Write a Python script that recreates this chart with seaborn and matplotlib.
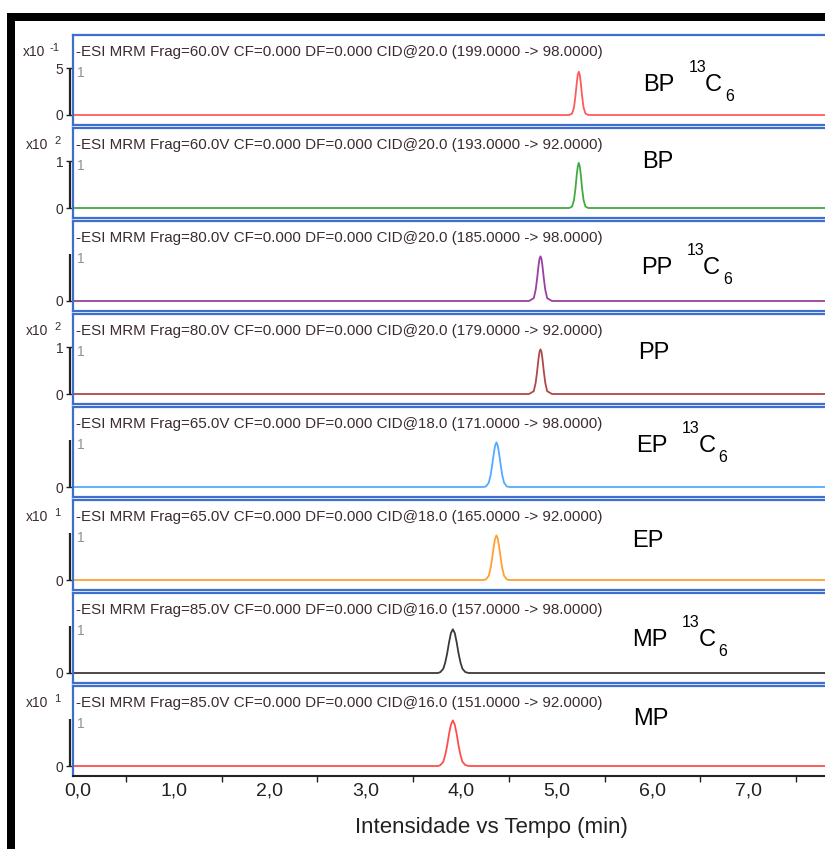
import matplotlib
matplotlib.use("Agg")
import matplotlib.pyplot as plt
import seaborn as sns
import pandas as pd
from matplotlib.patches import Rectangle

# ---------------- data ----------------
names = ["BP", "BP", "PP", "PP", "EP", "EP", "MP", "MP"]
labelled13 = [True, False, True, False, True, False, True, False]
headers = [
    "-ESI MRM Frag=60.0V CF=0.000 DF=0.000 CID@20.0 (199.0000 -> 98.0000)",
    "-ESI MRM Frag=60.0V CF=0.000 DF=0.000 CID@20.0 (193.0000 -> 92.0000)",
    "-ESI MRM Frag=80.0V CF=0.000 DF=0.000 CID@20.0 (185.0000 -> 98.0000)",
    "-ESI MRM Frag=80.0V CF=0.000 DF=0.000 CID@20.0 (179.0000 -> 92.0000)",
    "-ESI MRM Frag=65.0V CF=0.000 DF=0.000 CID@18.0 (171.0000 -> 98.0000)",
    "-ESI MRM Frag=65.0V CF=0.000 DF=0.000 CID@18.0 (165.0000 -> 92.0000)",
    "-ESI MRM Frag=85.0V CF=0.000 DF=0.000 CID@16.0 (157.0000 -> 98.0000)",
    "-ESI MRM Frag=85.0V CF=0.000 DF=0.000 CID@16.0 (151.0000 -> 92.0000)",
]
mult_exp = ["-1", "2", "", "2", "", "1", "", "1"]
ytick_values = [[0, 5], [0, 1], [0], [0, 1], [0], [0], [0], [0]]
ytick_labels = [["0", "5"], ["0", "1"], ["0"], ["0", "1"], ["0"], ["0"], ["0"], ["0"]]
scale_top = [5, 1, 1, 1, 1, 1, 1, 1]
colors = ["#ff5a5a", "#44a844", "#9b3fa0", "#b04848", "#55aaff", "#ffa030", "#3a3a3a", "#ff4d4d"]

bp13_t = [-0.05, 5.13, 5.16, 5.18, 5.195, 5.21, 5.22, 5.23, 5.24, 5.25, 5.265, 5.28, 5.30, 5.33, 7.85]
bp13_y = [0, 0, 0.15, 0.8, 2.0, 3.5, 4.3, 4.6, 4.3, 3.5, 2.0, 0.8, 0.15, 0, 0]
bp_t = [-0.05, 5.13, 5.16, 5.18, 5.195, 5.21, 5.22, 5.23, 5.24, 5.25, 5.265, 5.28, 5.30, 5.33, 7.85]
bp_y = [0, 0, 0.03, 0.17, 0.41, 0.73, 0.89, 0.96, 0.89, 0.73, 0.41, 0.17, 0.03, 0, 0]
pp13_t = [-0.05, 4.71, 4.76, 4.78, 4.795, 4.81, 4.82, 4.83, 4.84, 4.85, 4.865, 4.88, 4.90, 4.95, 7.85]
pp13_y = [0, 0, 0.06, 0.24, 0.48, 0.76, 0.90, 0.95, 0.90, 0.76, 0.48, 0.24, 0.06, 0, 0]
pp_t = [-0.05, 4.71, 4.76, 4.78, 4.795, 4.81, 4.82, 4.83, 4.84, 4.85, 4.865, 4.88, 4.90, 4.95, 7.85]
pp_y = [0, 0, 0.06, 0.24, 0.48, 0.76, 0.90, 0.95, 0.90, 0.76, 0.48, 0.24, 0.06, 0, 0]
ep13_t = [-0.05, 4.23, 4.26, 4.29, 4.31, 4.325, 4.34, 4.355, 4.37, 4.385, 4.40, 4.415, 4.43, 4.45, 4.48, 4.51, 7.85]
ep13_y = [0, 0, 0.01, 0.09, 0.26, 0.46, 0.68, 0.87, 0.95, 0.87, 0.68, 0.46, 0.26, 0.09, 0.01, 0, 0]
ep_t = [-0.05, 4.23, 4.26, 4.29, 4.31, 4.325, 4.34, 4.355, 4.37, 4.385, 4.40, 4.415, 4.43, 4.45, 4.48, 4.51, 7.85]
ep_y = [0, 0, 0.01, 0.09, 0.26, 0.46, 0.68, 0.87, 0.95, 0.87, 0.68, 0.46, 0.26, 0.09, 0.01, 0, 0]
mp13_t = [-0.05, 3.76, 3.785, 3.815, 3.835, 3.855, 3.875, 3.895, 3.915, 3.935, 3.955, 3.975, 3.995, 4.015, 4.045, 4.08, 7.85]
mp13_y = [0, 0, 0.02, 0.09, 0.22, 0.41, 0.65, 0.85, 0.93, 0.85, 0.65, 0.41, 0.22, 0.09, 0.02, 0, 0]
mp_t = [-0.05, 3.76, 3.785, 3.815, 3.835, 3.855, 3.875, 3.895, 3.915, 3.935, 3.955, 3.975, 3.995, 4.015, 4.045, 4.08, 7.85]
mp_y = [0, 0, 0.02, 0.09, 0.23, 0.43, 0.68, 0.88, 0.97, 0.88, 0.68, 0.43, 0.23, 0.09, 0.02, 0, 0]

times = [bp13_t, bp_t, pp13_t, pp_t, ep13_t, ep_t, mp13_t, mp_t]
intens = [bp13_y, bp_y, pp13_y, pp_y, ep13_y, ep_y, mp13_y, mp_y]

xtick_values = [0, 1, 2, 3, 4, 5, 6, 7]
xtick_labels = ["0,0", "1,0", "2,0", "3,0", "4,0", "5,0", "6,0", "7,0"]
xminor_values = [0, 0.5, 1.5, 2.5, 3.5, 4.5, 5.5, 6.5, 7.5]
xlabel = "Intensidade vs Tempo (min)"

# label positions (pixels in the reference)
label_x = [643, 642, 641, 638, 636, 632, 632, 633]
label_base = [91, 168, 274, 359, 452, 547, 646, 725]

# ---------------- style ----------------
sns.set_theme(style="white")
plt.rcParams["font.family"] = ["Liberation Sans", "DejaVu Sans"]

W, H = 825, 849
fig = plt.figure(figsize=(W / 100, H / 100), dpi=100)
renderer = fig.canvas.get_renderer()

PX = 95.75
X0 = 78
AX_L = 73
xmin = (AX_L - X0) / PX
xmax = (W - X0) / PX
BLUE = "#3f6fcc"
TXT = "#3b2b33"


def fx(px):
    return px / W


def fy(py):
    return 1 - py / H


for i in range(8):
    top = 35 + 93 * i
    ax = fig.add_axes([AX_L / W, 1 - (top + 90) / H, (W - AX_L + 2) / W, 90 / H])
    df = pd.DataFrame({"t": times[i], "y": intens[i]})
    sns.lineplot(data=df, x="t", y="y", ax=ax, color=colors[i], linewidth=1.3,
                 estimator=None, sort=False)
    T = scale_top[i]
    ax.set_xlim(xmin, xmax + 2 / PX)
    ax.set_ylim(-10 / 47 * T, 80 / 47 * T)
    ax.set_xlabel("")
    ax.set_ylabel("")
    for s in ["top", "bottom", "left"]:
        ax.spines[s].set_visible(True)
        ax.spines[s].set_color(BLUE)
        ax.spines[s].set_linewidth(1.6)
    ax.spines["right"].set_visible(False)
    ax.set_yticks(ytick_values[i], labels=ytick_labels[i])
    ax.tick_params(axis="y", which="major", direction="out", left=True, length=5,
                   width=1, color="#222222", pad=2, labelsize=10, labelcolor=TXT)
    ax.plot([-0.004, -0.004], [0, T], transform=ax.get_yaxis_transform(),
            clip_on=False, color="#222222", lw=1.6, solid_capstyle="butt")
    ax.text(4 / 752, 0.9 * T, "1", transform=ax.get_yaxis_transform(),
            ha="left", va="center", fontsize=10, color="#909090")
    ax.text(3 / 752, 1 - 21 / 90, headers[i], transform=ax.transAxes,
            ha="left", va="baseline", fontsize=10.9, color=TXT)
    if mult_exp[i]:
        neg = mult_exp[i].startswith("-")
        fig.text(fx(45 if neg else 48), fy(top + 21), "x10",
                 ha="right", va="baseline", fontsize=10, color=TXT)
        fig.text(fx(50 if neg else 54), fy(top + 16), mult_exp[i],
                 ha="left", va="baseline", fontsize=8, color=TXT)
    # compound label built from pieces
    b = label_base[i]
    t0 = fig.text(fx(label_x[i]), fy(b), names[i], ha="left", va="baseline",
                  fontsize=17, color="black")
    if labelled13[i]:
        ext = t0.get_window_extent(renderer=renderer)
        xe = ext.x1
        fig.text((xe + 14) / W, fy(b - 19), "13", ha="left", va="baseline",
                 fontsize=11.5, color="black")
        fig.text((xe + 31) / W, fy(b), "C", ha="left", va="baseline",
                 fontsize=17, color="black")
        fig.text((xe + 51) / W, fy(b + 10), "6", ha="left", va="baseline",
                 fontsize=11.5, color="black")
    if i < 7:
        ax.set_xticks([])
    else:
        ax.spines["bottom"].set_color("#222222")
        ax.spines["bottom"].set_linewidth(1.5)
        ax.set_xticks(xtick_values, labels=xtick_labels)
        ax.set_xticks(xminor_values, minor=True)
        ax.tick_params(axis="x", which="major", bottom=True, length=0, pad=5,
                       labelsize=14, labelcolor="#222222")
        ax.tick_params(axis="x", which="minor", bottom=True, direction="out",
                       length=4, width=1, color="#222222")

fig.text(fx(491), fy(828), xlabel, ha="center", va="center", fontsize=16,
         color="#222222")

# thick black border (left and top)
fig.add_artist(Rectangle((7 / W, 0), 8 / W, 1 - 13 / H, transform=fig.transFigure,
                         facecolor="black", edgecolor="none"))
fig.add_artist(Rectangle((7 / W, 1 - 21 / H), 1, 8 / H, transform=fig.transFigure,
                         facecolor="black", edgecolor="none"))

fig.savefig("out.png", dpi=100)
